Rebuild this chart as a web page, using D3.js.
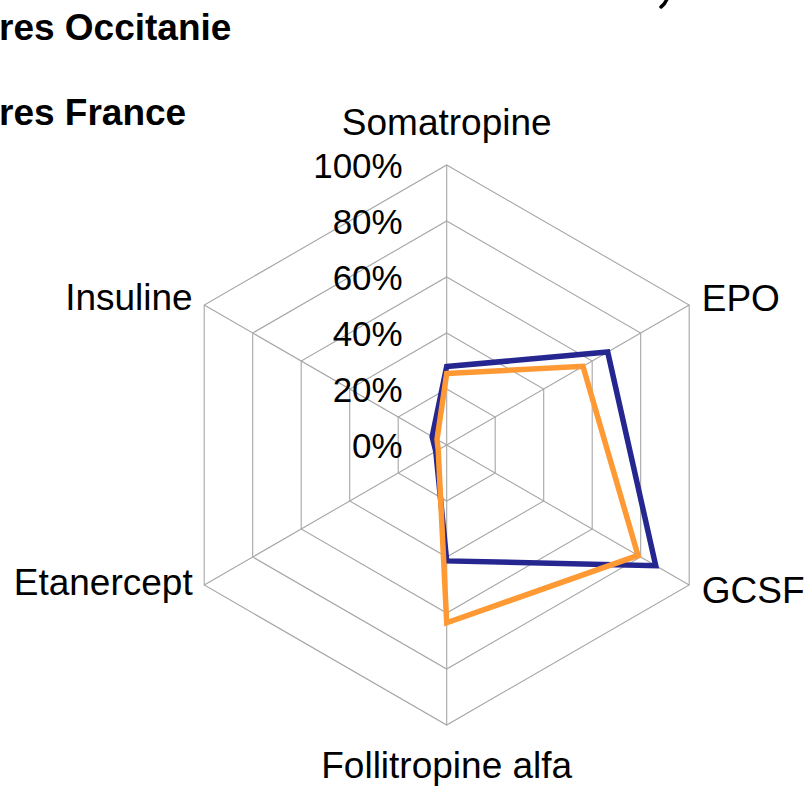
<!DOCTYPE html>
<html>
<head>
<meta charset="utf-8">
<script src="https://cdn.jsdelivr.net/npm/d3@7"></script>
<style>
  html, body { margin: 0; padding: 0; background: #fff; }
  svg { display: block; }
  text { font-family: "Liberation Sans", Arial, sans-serif; fill: #000; }
</style>
</head>
<body>
<svg id="chart" width="806" height="787"></svg>
<script>
const categories = ["Somatropine", "EPO", "GCSF", "Follitropine alfa", "Etanercept", "Insuline"];
const seriesNames = ["res Occitanie", "res France"];
const occitanie = [28, 66.4, 86.2, 41.4, 4.5, 6];
const france = [25.5, 56.2, 78.9, 63.5, 3.5, 4];
const tickValues = [0, 20, 40, 60, 80, 100];
const tickLabels = ["0%", "20%", "40%", "60%", "80%", "100%"];

const svg = d3.select("#chart");
const cx = 446.7, cy = 445, R = 280;

const r = d3.scaleLinear().domain([0, 100]).range([0, R]);
const angle = d3.scaleLinear().domain([0, categories.length]).range([0, 2 * Math.PI]);

const g = svg.append("g").attr("transform", `translate(${cx},${cy})`);

// grid rings (hexagons)
const ringLine = d3.lineRadial()
  .angle((d, i) => angle(i))
  .radius(d => r(d))
  .curve(d3.curveLinearClosed);

g.selectAll("path.ring")
  .data(tickValues.filter(v => v > 0))
  .join("path")
  .attr("class", "ring")
  .attr("d", v => ringLine(categories.map(() => v)))
  .attr("fill", "none")
  .attr("stroke", "#a6a6a6")
  .attr("stroke-width", 1.1);

// spokes
g.selectAll("line.spoke")
  .data(categories)
  .join("line")
  .attr("class", "spoke")
  .attr("x1", 0).attr("y1", 0)
  .attr("x2", (d, i) => r(100) * Math.sin(angle(i)))
  .attr("y2", (d, i) => -r(100) * Math.cos(angle(i)))
  .attr("stroke", "#a6a6a6")
  .attr("stroke-width", 1.1);

// series
const seriesLine = d3.lineRadial()
  .angle((d, i) => angle(i))
  .radius(d => r(d))
  .curve(d3.curveLinearClosed);

g.append("path")
  .attr("d", seriesLine(occitanie))
  .attr("fill", "none")
  .attr("stroke", "#262690")
  .attr("stroke-width", 5.5)
  .attr("stroke-linejoin", "miter");

g.append("path")
  .attr("d", seriesLine(france))
  .attr("fill", "none")
  .attr("stroke", "#ff9933")
  .attr("stroke-width", 5.5)
  .attr("stroke-linejoin", "miter");

// tick labels along top axis
g.selectAll("text.tick")
  .data(tickValues)
  .join("text")
  .attr("class", "tick")
  .attr("x", -44)
  .attr("y", v => -r(v) + 12.5)
  .attr("text-anchor", "end")
  .attr("font-size", 35)
  .text((v, i) => tickLabels[i]);

// category labels
const labelPos = [
  { x: 0, y: -310, anchor: "middle" },
  { x: 255, y: -134, anchor: "start" },
  { x: 255, y: 158, anchor: "start" },
  { x: 0, y: 333, anchor: "middle" },
  { x: -254, y: 150, anchor: "end" },
  { x: -254, y: -135, anchor: "end" }
];
g.selectAll("text.cat")
  .data(categories)
  .join("text")
  .attr("class", "cat")
  .attr("x", (d, i) => labelPos[i].x)
  .attr("y", (d, i) => labelPos[i].y)
  .attr("text-anchor", (d, i) => labelPos[i].anchor)
  .attr("font-size", 37)
  .text(d => d);

// legend (cut off at left edge)
svg.selectAll("text.legend")
  .data(seriesNames)
  .join("text")
  .attr("class", "legend")
  .attr("x", -1)
  .attr("y", (d, i) => 40 + i * 85)
  .attr("font-size", 37)
  .attr("font-weight", "bold")
  .text(d => d);

// small stroke: fragment of a cut-off title above the chart
svg.append("path")
  .attr("d", "M667,-1 Q665,4 661,7")
  .attr("fill", "none")
  .attr("stroke", "#000")
  .attr("stroke-width", 3.5)
  .attr("stroke-linecap", "round");
</script>
</body>
</html>
